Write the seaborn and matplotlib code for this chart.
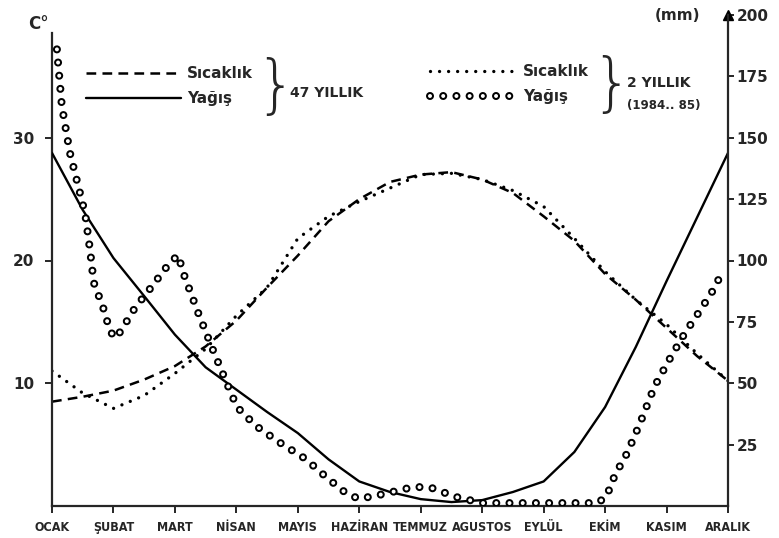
import numpy as np
import matplotlib
matplotlib.use("Agg")
import matplotlib.pyplot as plt
from matplotlib.legend_handler import HandlerTuple
import seaborn as sns

# --- data ---
months = ["OCAK", "ŞUBAT", "MART", "NİSAN", "MAYIS", "HAZİRAN",
          "TEMMUZ", "AGUSTOS", "EYLÜL", "EKİM", "KASIM", "ARALIK"]
half_months = np.arange(23) / 2  # 0 = OCAK ... 11 = ARALIK, every half month

# 47-year mean temperature (C)
temp_47 = [8.5, 8.9, 9.4, 10.3, 11.4, 13.0, 15.1, 17.8, 20.4, 23.2, 25.0, 26.4,
           27.0, 27.2, 26.6, 25.5, 23.6, 21.6, 18.9, 16.8, 14.5, 12.2, 10.2]
# 47-year mean precipitation (mm)
rain_47 = [143.8, 120.6, 101.0, 85.5, 69.8, 56.5, 47.4, 38.3, 29.7, 19.0, 10.0, 5.7,
           2.8, 1.6, 2.4, 5.7, 10.0, 22.0, 40.3, 64.8, 91.6, 117.7, 143.8]
# 1984-85 temperature (C)
temp_2y = [11.0, 9.2, 7.95, 9.0, 10.8, 12.8, 15.5, 17.8, 21.8, 23.6, 24.8, 25.9,
           27.0, 27.1, 26.6, 25.7, 24.4, 21.8, 19.1, 16.8, 14.8, 12.4, 10.2]
# 1984-85 precipitation (mm), read along the circle trail
rain_2y_x = [0.08, 0.16, 0.29, 0.41, 0.54, 0.62, 0.68, 0.83, 0.93, 1.01, 1.11, 1.35,
             1.63, 1.89, 2.05, 2.16, 2.38, 2.62, 2.85, 3.01, 3.32, 3.69, 4.13, 4.46,
             4.80, 5.00, 5.40, 5.87, 6.14, 6.57, 7.00, 8.87, 9.02, 9.16, 9.36, 9.57,
             9.80, 10.06, 10.30, 10.55, 10.76, 10.90]
rain_2y = [186, 163, 144, 132, 119, 104, 91, 81, 72.5, 68.4, 70.9, 80.7,
           89.6, 98.2, 102.2, 93.3, 78.6, 63.5, 49.7, 40.3, 32.6, 26.1, 19.1, 11.8,
           4.9, 2.9, 4.9, 7.7, 7.7, 3.7, 1.2, 1.2, 3.7, 12.6, 21.6, 33.8,
           48.5, 60.3, 70.5, 79.8, 88.0, 94.9]

temp_ticks = [10, 20, 30]
rain_ticks = [25, 50, 75, 100, 125, 150, 175, 200]

# --- style ---
sns.set_style("ticks")
plt.rcParams["font.family"] = ["DejaVu Sans"]
plt.rcParams["font.weight"] = "bold"
plt.rcParams["lines.scale_dashes"] = False

W, H = 779, 538
fig = plt.figure(figsize=(W / 100, H / 100), dpi=100)
ax = fig.add_axes([52 / W, 32 / H, 676 / W, 491 / H])
ax2 = ax.twinx()

# temperature lines (left axis)
sns.lineplot(x=half_months, y=temp_47, ax=ax, color="black", lw=1.8,
             linestyle=(0, (7, 4.5)), sort=False, label="Sıcaklık")
sns.lineplot(x=half_months, y=temp_2y, ax=ax, color="black", lw=2.4,
             linestyle=(0, (0.01, 6.5)), dash_capstyle="round", sort=False,
             label="Sıcaklık")

# precipitation lines (right axis)
sns.lineplot(x=half_months, y=rain_47, ax=ax2, color="black", lw=1.7,
             sort=False, label="Yağış")
ring_style = dict(linestyle=(0, (0.01, 9.5)), dash_capstyle="round", sort=False)
sns.lineplot(x=rain_2y_x, y=rain_2y, ax=ax2, color="black", lw=5.8,
             label="Yağış", **ring_style)
sns.lineplot(x=rain_2y_x, y=rain_2y, ax=ax2, color="white", lw=2.9,
             label="_ring", **ring_style)

t47, t2 = ax.lines[0], ax.lines[1]
r47, r2o, r2i = ax2.lines[0], ax2.lines[1], ax2.lines[2]
ax.get_legend().remove()
ax2.get_legend().remove()

# axes
ax.set_xlim(0, 11)
ax.set_ylim(0, 40)
ax2.set_ylim(0, 200)
ax.set_xticks(range(12))
ax.set_xticklabels(months)
ax.set_yticks(temp_ticks)
ax2.set_yticks(rain_ticks)
ax.set_xlabel("")
ax.set_ylabel("")
ax2.set_ylabel("")
ax.tick_params(axis="x", length=5, width=1.4, pad=6)
ax.tick_params(axis="y", labelsize=11, length=5, width=1.4, pad=8)
ax2.tick_params(axis="y", labelsize=11, length=4, width=1.4, pad=2)
for lab in ax.get_xticklabels():
    lab.set_fontweight("bold")
    lab.set_fontsize(9)
    lab.set_fontstretch("condensed")
for lab in ax.get_yticklabels() + ax2.get_yticklabels():
    lab.set_fontweight("bold")

for s in ["top", "right"]:
    ax.spines[s].set_visible(False)
for s in ["top", "left", "bottom"]:
    ax2.spines[s].set_visible(False)
for a in (ax, ax2):
    for sp in a.spines.values():
        sp.set_linewidth(1.6)
ax.spines["left"].set_bounds(0, 38.5)
ax2.plot([1], [1], marker="^", color="black", markersize=7,
         transform=ax2.transAxes, clip_on=False)

# legends
leg1 = ax2.legend([t47, r47], ["Sıcaklık", "Yağış"], loc="upper left",
                  bbox_to_anchor=(86 / W, 1 - 66 / H), bbox_transform=fig.transFigure,
                  frameon=False, fontsize=11, handlelength=6.2, handletextpad=0.4,
                  labelspacing=0.65, borderpad=0, borderaxespad=0)
ax2.add_artist(leg1)
leg2 = ax2.legend([t2, (r2o, r2i)], ["Sıcaklık", "Yağış"], loc="upper left",
                  bbox_to_anchor=(430 / W, 1 - 64 / H), bbox_transform=fig.transFigure,
                  frameon=False, fontsize=11, handlelength=5.7, handletextpad=0.4,
                  labelspacing=0.65, borderpad=0, borderaxespad=0,
                  handler_map={tuple: HandlerTuple(ndivide=1, pad=0)})

# braces and group labels
fig.text(275 / W, 1 - 88 / H, "}", fontsize=46, fontweight="light",
         va="center", ha="center")
fig.text(290 / W, 1 - 93 / H, "47 YILLIK", fontsize=10, va="center", ha="left")
fig.text(612 / W, 1 - 86 / H, "}", fontsize=46, fontweight="light",
         va="center", ha="center")
fig.text(627 / W, 1 - 83 / H, "2 YILLIK", fontsize=10, va="center", ha="left")
fig.text(627 / W, 1 - 105 / H, "(1984.. 85)", fontsize=8.5, va="center", ha="left")

# axis unit labels
fig.text(28 / W, 1 - 24 / H, "C°", fontsize=12, va="center", ha="left")
fig.text(655 / W, 1 - 16 / H, "(mm)", fontsize=11, va="center", ha="left")

fig.savefig("out.png", dpi=100)
